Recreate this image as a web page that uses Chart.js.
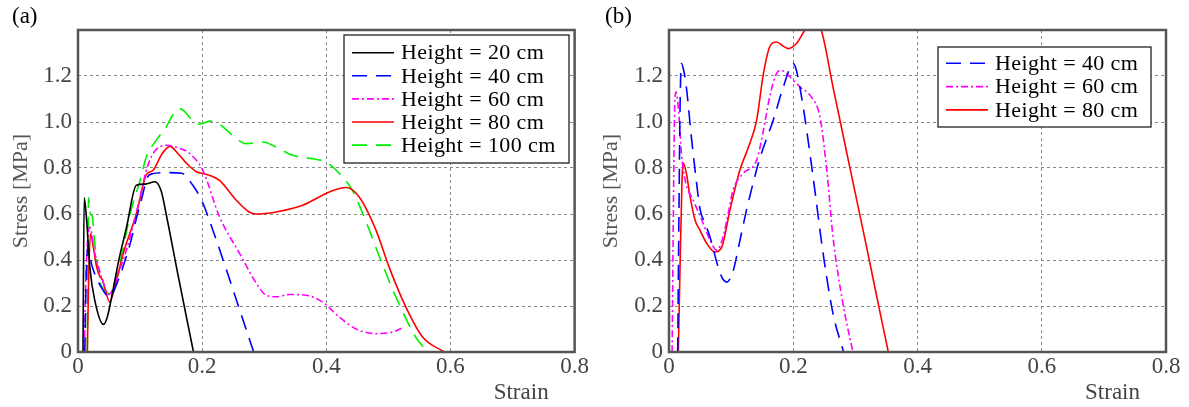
<!DOCTYPE html>
<html>
<head>
<meta charset="utf-8">
<script src="https://cdn.jsdelivr.net/npm/chart.js@4.4.1/dist/chart.umd.min.js"></script>
<style>
    html, body { margin: 0; padding: 0; background: #fff; }
    #wrap { position: relative; width: 1189px; height: 407px; overflow: hidden; }
    #chartA { position: absolute; left: 0; top: 0; }
    #chartB { position: absolute; left: 590px; top: 0; }
</style>
</head>
<body>
<div id="wrap">
    <canvas id="chartA" width="590" height="407"></canvas>
    <canvas id="chartB" width="599" height="407"></canvas>
</div>
<script>
/* ===== DATA ===== */
const strainTicks = [0, 0.2, 0.4, 0.6, 0.8];
const stressTicks = [0, 0.2, 0.4, 0.6, 0.8, 1.0, 1.2];
const heights = ['20', '40', '60', '80', '100'];

// panel (a)
const strainA20 = [0.008, 0.010, 0.014, 0.019, 0.027, 0.041, 0.047, 0.055, 0.065, 0.078, 0.094, 0.108, 0.124, 0.134, 0.142, 0.160, 0.186];
const stressA20 = [0, 0.67, 0.57, 0.37, 0.225, 0.12, 0.15, 0.25, 0.39, 0.54, 0.725, 0.73, 0.74, 0.70, 0.60, 0.35, 0];

const strainA40 = [0.011, 0.013, 0.016, 0.022, 0.030, 0.040, 0.050, 0.066, 0.076, 0.084, 0.094, 0.102, 0.112, 0.120, 0.143, 0.167, 0.185, 0.200, 0.210, 0.283];
const stressA40 = [0, 0.30, 0.46, 0.38, 0.32, 0.27, 0.24, 0.32, 0.40, 0.47, 0.58, 0.66, 0.76, 0.775, 0.78, 0.777, 0.725, 0.655, 0.585, 0];

const strainA60 = [0.010, 0.013, 0.019, 0.027, 0.038, 0.049, 0.067, 0.084, 0.100, 0.110, 0.121, 0.142, 0.164, 0.180, 0.201, 0.228, 0.260, 0.287, 0.303, 0.319, 0.340, 0.367, 0.394, 0.421, 0.448, 0.480, 0.507, 0.523];
const stressA60 = [0, 0.35, 0.543, 0.43, 0.326, 0.25, 0.355, 0.50, 0.674, 0.79, 0.863, 0.899, 0.885, 0.863, 0.79, 0.587, 0.43, 0.30, 0.247, 0.24, 0.25, 0.247, 0.217, 0.152, 0.10, 0.08, 0.087, 0.106];

const strainA80 = [0.015, 0.017, 0.020, 0.025, 0.030, 0.035, 0.040, 0.044, 0.051, 0.060, 0.073, 0.094, 0.110, 0.121, 0.135, 0.148, 0.162, 0.175, 0.190, 0.201, 0.215, 0.228, 0.255, 0.275, 0.287, 0.319, 0.362, 0.405, 0.432, 0.453, 0.480, 0.501, 0.528, 0.555, 0.590];
const stressA80 = [0, 0.30, 0.515, 0.45, 0.37, 0.33, 0.31, 0.27, 0.217, 0.29, 0.43, 0.60, 0.77, 0.79, 0.86, 0.894, 0.86, 0.82, 0.785, 0.776, 0.765, 0.746, 0.66, 0.61, 0.60, 0.609, 0.638, 0.696, 0.715, 0.674, 0.53, 0.37, 0.196, 0.065, 0];

const strainA100 = [0.015, 0.016, 0.017, 0.020, 0.023, 0.026, 0.030, 0.036, 0.043, 0.049, 0.060, 0.072, 0.084, 0.100, 0.110, 0.126, 0.142, 0.155, 0.164, 0.172, 0.180, 0.195, 0.212, 0.228, 0.250, 0.271, 0.298, 0.319, 0.346, 0.378, 0.400, 0.421, 0.442, 0.463, 0.490, 0.512, 0.544, 0.563];
const stressA100 = [0, 0.40, 0.67, 0.60, 0.59, 0.50, 0.40, 0.30, 0.27, 0.255, 0.31, 0.44, 0.60, 0.746, 0.848, 0.92, 0.978, 1.04, 1.058, 1.045, 1.02, 0.99, 1.004, 0.99, 0.94, 0.906, 0.913, 0.891, 0.855, 0.84, 0.826, 0.776, 0.703, 0.573, 0.384, 0.24, 0.065, 0];

// panel (b)
const strainB40 = [0.014, 0.016, 0.018, 0.020, 0.024, 0.028, 0.036, 0.042, 0.050, 0.058, 0.066, 0.079, 0.086, 0.093, 0.103, 0.113, 0.125, 0.135, 0.146, 0.168, 0.184, 0.200, 0.205, 0.216, 0.232, 0.248, 0.264, 0.281];
const stressB40 = [0, 0.60, 1.10, 1.254, 1.22, 1.15, 0.935, 0.79, 0.62, 0.56, 0.50, 0.37, 0.32, 0.304, 0.35, 0.47, 0.62, 0.73, 0.84, 1.01, 1.152, 1.254, 1.225, 1.065, 0.76, 0.43, 0.167, 0];

const strainB60 = [0.005, 0.007, 0.009, 0.011, 0.015, 0.020, 0.026, 0.039, 0.053, 0.066, 0.077, 0.087, 0.095, 0.103, 0.119, 0.141, 0.152, 0.162, 0.173, 0.181, 0.189, 0.211, 0.229, 0.243, 0.254, 0.264, 0.280, 0.296];
const stressB60 = [0, 0.60, 1.05, 1.13, 1.065, 0.863, 0.746, 0.66, 0.573, 0.486, 0.442, 0.50, 0.60, 0.703, 0.776, 0.833, 0.964, 1.109, 1.21, 1.225, 1.21, 1.152, 1.109, 1.022, 0.79, 0.50, 0.21, 0];

const strainB80 = [0.015, 0.018, 0.021, 0.023, 0.028, 0.034, 0.042, 0.050, 0.061, 0.074, 0.085, 0.098, 0.114, 0.130, 0.141, 0.152, 0.162, 0.173, 0.184, 0.192, 0.205, 0.219, 0.232, 0.245, 0.264, 0.291, 0.318, 0.339, 0.353];
const stressB80 = [0, 0.40, 0.75, 0.822, 0.776, 0.674, 0.573, 0.529, 0.471, 0.435, 0.457, 0.616, 0.79, 0.906, 1.007, 1.21, 1.326, 1.348, 1.33, 1.319, 1.341, 1.40, 1.44, 1.40, 1.152, 0.804, 0.457, 0.181, 0];

/* ===== STYLES ===== */
const seriesStyle = {
    '20':  { color: '#000000', dash: [] },
    '40':  { color: '#0000ff', dash: [15, 9] },
    '60':  { color: '#ff00ff', dash: [7, 3, 2, 3] },
    '80':  { color: '#ff0000', dash: [] },
    '100': { color: '#00f000', dash: [15, 9] }
};

Chart.defaults.font.family = '"Liberation Serif", "Times New Roman", serif';
Chart.defaults.font.size = 22;

function toPoints(xs, ys) {
    return xs.map((x, i) => ({ x: x, y: ys[i] }));
}

function makeDataset(h, xs, ys) {
    const st = seriesStyle[h];
    return {
        label: 'Height = ' + h + ' cm',
        data: toPoints(xs, ys),
        borderColor: st.color,
        borderDash: st.dash,
        borderWidth: 1.6,
        pointRadius: 0,
        fill: false,
        cubicInterpolationMode: 'monotone',
        clip: 0
    };
}

/* ===== DECORATION PLUGIN (frame, tag, x title, legend) ===== */
const panelDecor = {
    id: 'panelDecor',
    afterDraw(chart, args, opts) {
        const ctx = chart.ctx;
        const area = chart.chartArea;
        const fam = Chart.defaults.font.family;
        ctx.save();

        // frame
        ctx.setLineDash([]);
        ctx.strokeStyle = '#555';
        ctx.lineWidth = 2.5;
        ctx.strokeRect(area.left, area.top, area.right - area.left, area.bottom - area.top);

        // panel tag
        ctx.font = '23px ' + fam;
        ctx.fillStyle = '#000';
        ctx.textAlign = 'left';
        ctx.textBaseline = 'alphabetic';
        ctx.fillText(opts.tag, opts.tagX, 23);

        // x axis title
        ctx.fillStyle = '#444';
        ctx.textAlign = 'right';
        ctx.fillText('Strain', area.right - 26, 399);

        // legend
        const lg = opts.legend;
        ctx.font = '22px ' + fam;
        ctx.fillStyle = '#fff';
        ctx.fillRect(lg.x, lg.y, lg.w, lg.h);
        ctx.strokeStyle = '#222';
        ctx.lineWidth = 1.3;
        ctx.strokeRect(lg.x, lg.y, lg.w, lg.h);
        if ('letterSpacing' in ctx) ctx.letterSpacing = '0.4px';
        chart.data.datasets.forEach((ds, i) => {
            const y = lg.y + lg.row0 + i * lg.rowH;
            ctx.strokeStyle = ds.borderColor;
            ctx.lineWidth = ds.borderWidth;
            ctx.setLineDash(ds.borderDash || []);
            ctx.beginPath();
            ctx.moveTo(lg.x + 8, y);
            ctx.lineTo(lg.x + 50, y);
            ctx.stroke();
            ctx.setLineDash([]);
            ctx.fillStyle = '#000';
            ctx.textAlign = 'left';
            ctx.textBaseline = 'middle';
            ctx.fillText(ds.label, lg.x + 57, y + 1);
        });
        ctx.restore();
    }
};

function makeOptions(tag, tagX, legend, yWidth, padRight) {
    return {
        responsive: false,
        animation: false,
        layout: { padding: { top: 30, right: padRight, left: 0, bottom: 0 } },
        plugins: {
            legend: { display: false },
            tooltip: { enabled: false },
            panelDecor: { tag: tag, tagX: tagX, legend: legend }
        },
        scales: {
            x: {
                type: 'linear',
                min: 0,
                max: 0.8,
                afterBuildTicks: s => { s.ticks = strainTicks.map(v => ({ value: v })); },
                afterFit: s => { s.height = 55; },
                grid: { color: '#888', lineWidth: 1, drawTicks: false },
                border: { display: false, dash: [3, 3] },
                ticks: {
                    color: '#444',
                    font: { size: 23 },
                    padding: 1,
                    maxRotation: 0,
                    callback: v => (v === 0 ? '0' : v.toFixed(1))
                }
            },
            y: {
                type: 'linear',
                min: 0,
                max: 1.4,
                afterBuildTicks: s => { s.ticks = stressTicks.map(v => ({ value: v })); },
                afterFit: s => { s.width = yWidth; },
                grid: { color: '#888', lineWidth: 1, drawTicks: false },
                border: { display: false, dash: [3, 3] },
                ticks: {
                    color: '#444',
                    font: { size: 23 },
                    padding: 6,
                    callback: v => (v === 0 ? '0' : v.toFixed(1))
                },
                title: {
                    display: true,
                    text: 'Stress [MPa]',
                    color: '#555',
                    font: { size: 22 },
                    padding: { top: 8, bottom: 0 }
                }
            }
        }
    };
}

/* ===== CHARTS ===== */
document.addEventListener('DOMContentLoaded', function() {
    new Chart(document.getElementById('chartA').getContext('2d'), {
        type: 'line',
        data: {
            datasets: [
                makeDataset(heights[0], strainA20, stressA20),
                makeDataset(heights[1], strainA40, stressA40),
                makeDataset(heights[2], strainA60, stressA60),
                makeDataset(heights[3], strainA80, stressA80),
                makeDataset(heights[4], strainA100, stressA100)
            ]
        },
        options: makeOptions('(a)', 12, { x: 344, y: 35, w: 225, h: 128, row0: 17.7, rowH: 23.1 }, 78, 15),
        plugins: [panelDecor]
    });

    new Chart(document.getElementById('chartB').getContext('2d'), {
        type: 'line',
        data: {
            datasets: [
                makeDataset(heights[1], strainB40, stressB40),
                makeDataset(heights[2], strainB60, stressB60),
                makeDataset(heights[3], strainB80, stressB80)
            ]
        },
        options: makeOptions('(b)', 15, { x: 348, y: 47, w: 213, h: 80, row0: 16.3, rowH: 23.3 }, 79, 23),
        plugins: [panelDecor]
    });
});
</script>
</body>
</html>
